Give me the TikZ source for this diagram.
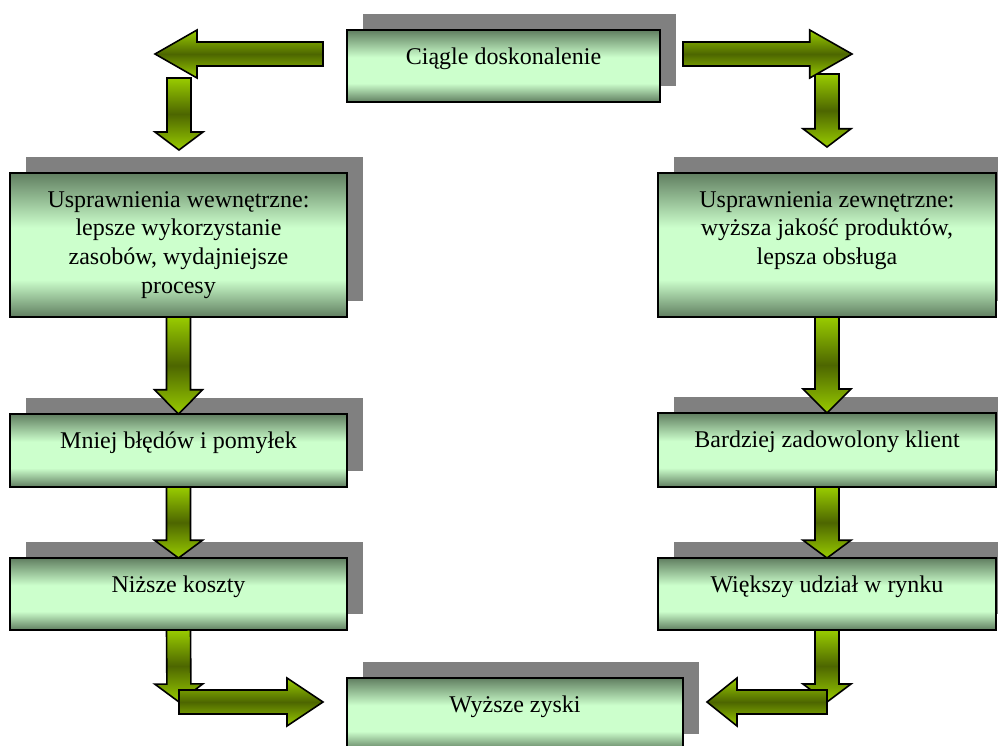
\documentclass[tikz,border=0pt]{standalone}
\usepackage{fontspec}
\setmainfont{Liberation Serif}
\usetikzlibrary{calc,shadows}

\definecolor{boxdark}{RGB}{96,126,96}
\definecolor{boxlight}{RGB}{204,255,204}
\definecolor{arrlight}{RGB}{153,204,0}
\definecolor{arrdark}{RGB}{77,102,0}
\definecolor{shadowgray}{RGB}{128,128,128}

% mint band across the middle of each box, darker at top and bottom
\pgfdeclareverticalshading{boxshade}{100bp}{color(0bp)=(boxdark); color(25bp)=(boxdark);
  color(38bp)=(boxlight); color(56bp)=(boxlight); color(75bp)=(boxdark); color(100bp)=(boxdark)}
% olive block arrows: bright at the ends of the bounding box, dark in the middle
\pgfdeclareverticalshading{arrowshade}{100bp}{color(0bp)=(arrlight); color(25bp)=(arrlight);
  color(50bp)=(arrdark); color(75bp)=(arrlight); color(100bp)=(arrlight)}

\tikzset{
  box/.style={draw=black, line width=1.6pt, shading=boxshade, inner sep=0pt, outer sep=0pt,
    general shadow={fill=shadowgray, shadow xshift=16pt, shadow yshift=16pt}},
  lbl/.style={anchor=north, inner sep=0pt, align=center, font=\fontsize{24}{28.7}\selectfont},
  blockarrow/.style={draw=black, line width=1.6pt, line join=miter, shading=arrowshade},
}

% first-line strut so every label starts at the same baseline offset
\newcommand{\lblstrut}{\rule{0pt}{18pt}}

% straight block arrow from #1 (tail) to #2 (tip); head takes the last quarter
\newcommand{\blockarrow}[2]{%
  \coordinate (ah) at ($(#1)!0.75!(#2)$);
  \draw[blockarrow]
    ($(#1)!12pt!90:(#2)$) -- ($(ah)!12pt!90:(#2)$) -- ($(ah)!24pt!90:(#2)$) -- (#2)
    -- ($(ah)!24pt!-90:(#2)$) -- ($(ah)!12pt!-90:(#2)$) -- ($(#1)!12pt!-90:(#2)$) -- cycle;
}

\begin{document}
\begin{tikzpicture}[x=1pt,y=-1pt]
\useasboundingbox (0,0) rectangle (998,745);
\clip (0,0) rectangle (998,745);

% boxes
\node[box, minimum width=313pt, minimum height=72pt]  (top)  at (503.5,66)  {};
\node[box, minimum width=337pt, minimum height=144pt] (lin)  at (178.5,245) {};
\node[box, minimum width=338pt, minimum height=144pt] (rin)  at (827,245)   {};
\node[box, minimum width=337pt, minimum height=73pt]  (lmid) at (178.5,450.5) {};
\node[box, minimum width=338pt, minimum height=74pt]  (rmid) at (827,450)   {};
\node[box, minimum width=337pt, minimum height=72pt]  (llow) at (178.5,594) {};
\node[box, minimum width=338pt, minimum height=72pt]  (rlow) at (827,594)   {};
\node[box, minimum width=336pt, minimum height=72pt]  (gain) at (515,714)   {};

% labels
\node[lbl] (top-t)  at ($(top.north)+(0,16)$)  {\lblstrut Ciągle doskonalenie};
\node[lbl] (lin-t)  at ($(lin.north)+(0,16)$)  {\lblstrut Usprawnienia wewnętrzne:\\lepsze wykorzystanie\\zasobów, wydajniejsze\\procesy};
\node[lbl] (rin-t)  at ($(rin.north)+(0,16)$)  {\lblstrut Usprawnienia zewnętrzne:\\wyższa jakość produktów,\\lepsza obsługa};
\node[lbl] (lmid-t) at ($(lmid.north)+(0,16)$) {\lblstrut Mniej błędów i pomyłek};
\node[lbl] (rmid-t) at ($(rmid.north)+(0,16)$) {\lblstrut Bardziej zadowolony klient};
\node[lbl] (llow-t) at ($(llow.north)+(0,16)$) {\lblstrut Niższe koszty};
\node[lbl] (rlow-t) at ($(rlow.north)+(0,16)$) {\lblstrut Większy udział w rynku};
\node[lbl] (gain-t) at ($(gain.north)+(0,16)$) {\lblstrut Wyższe zyski};

% free ends of the split arrows
\coordinate (tl-tail) at ($(top.west)+(-24,-12)$);
\coordinate (tl-tip)  at (155,54);
\coordinate (tl-down) at (179,78);
\coordinate (tl-dtip) at (179,150);
\coordinate (tr-tail) at ($(top.east)+(23,-12)$);
\coordinate (tr-tip)  at (852,54);
\coordinate (tr-down) at (827,74);
\coordinate (tr-dtip) at (827,147);
\coordinate (bl-turn) at (179,702);
\coordinate (bl-tip)  at ($(gain.west)+(-24,-12)$);
\coordinate (br-turn) at (827,702);
\coordinate (br-tip)  at ($(gain.east)+(24,-12)$);

% arrows from the top box
\blockarrow{tl-down}{tl-dtip}
\blockarrow{tl-tail}{tl-tip}
\blockarrow{tr-down}{tr-dtip}
\blockarrow{tr-tail}{tr-tip}

% column arrows
\blockarrow{lin.south}{lmid.north}
\blockarrow{lmid.south}{llow.north}
\blockarrow{rin.south}{rmid.north}
\blockarrow{rmid.south}{rlow.north}

% arrows into the bottom box
\blockarrow{llow.south}{bl-turn}
\blockarrow{bl-turn}{bl-tip}
\blockarrow{rlow.south}{br-turn}
\blockarrow{br-turn}{br-tip}
\end{tikzpicture}
\end{document}
